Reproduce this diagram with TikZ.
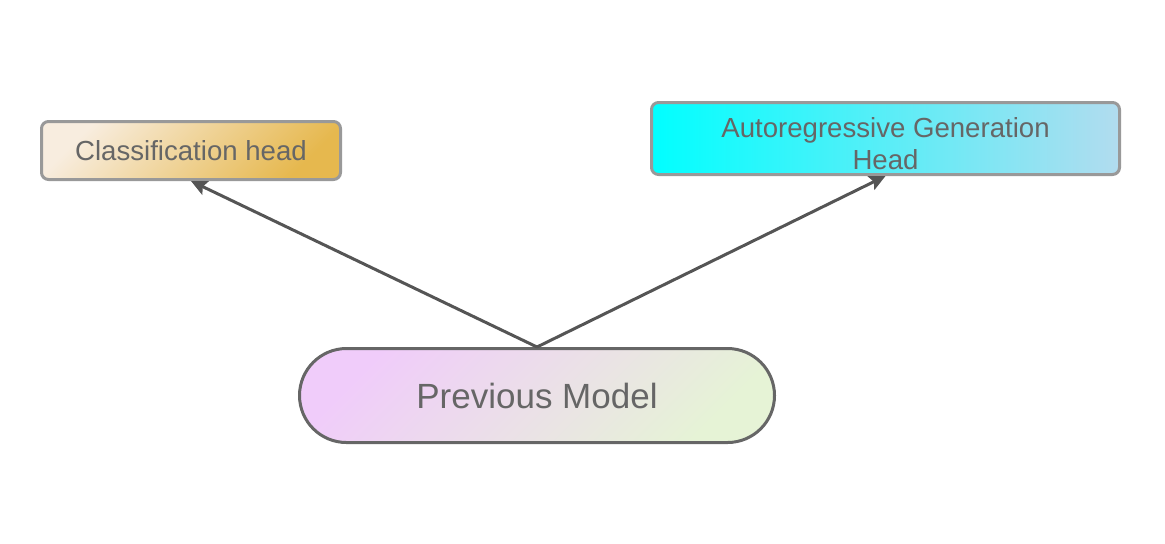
\documentclass[tikz,border=0pt]{standalone}
\usepackage{fontspec}
\setmainfont{Liberation Sans}
\usetikzlibrary{arrows.meta}
\definecolor{txt}{HTML}{666666}
\definecolor{bordlight}{HTML}{999999}
\definecolor{borddark}{HTML}{666666}
\definecolor{arr}{HTML}{555555}
\definecolor{clsA}{HTML}{F8EDDF}
\definecolor{clsB}{HTML}{E6B84E}
\definecolor{arA}{HTML}{00FFFF}
\definecolor{arB}{HTML}{B2DCEF}
\definecolor{pmA}{HTML}{F0CCFA}
\definecolor{pmB}{HTML}{E6F3D6}
\tikzset{
  headbox/.style={draw=bordlight, line width=1.5pt, rounded corners=3.5pt, text=txt,
    inner sep=0pt, font=\fontsize{13.8}{16.5}\selectfont},
  modelbox/.style={draw=borddark, line width=1.5pt, rounded corners=23.5pt, text=txt,
    align=center, inner sep=0pt, font=\fontsize{17.5}{21}\selectfont},
  link/.style={draw=arr, line width=1.5pt, -{Stealth[length=8pt, width=7.5pt, inset=1.5pt]}}
}
\begin{document}
\begin{tikzpicture}[x=0.5pt, y=-0.5pt]
\useasboundingbox (0,0) rectangle (1165,543);
\node[headbox, minimum width=149.5pt, minimum height=29pt,
      left color=clsA, right color=clsB, shading angle=45] (cls) at (191,150.5) {Classification head};
\node[headbox, minimum width=234pt, minimum height=36pt,
      left color=arA, right color=arB] (ar) at (885.5,138.5)
      {\raisebox{-7.8pt}[0pt][0pt]{\begin{tabular}{@{}c@{}}Autoregressive Generation\\[-0.6pt]Head\end{tabular}}};
\node[modelbox, minimum width=237.5pt, minimum height=47pt,
      left color=pmA, right color=pmB, shading angle=45] (pm) at (537,395.5) {Previous Model};
\draw[link] (pm.north) -- (cls.south);
\draw[link] (pm.north) -- (ar.south);
\end{tikzpicture}
\end{document}
